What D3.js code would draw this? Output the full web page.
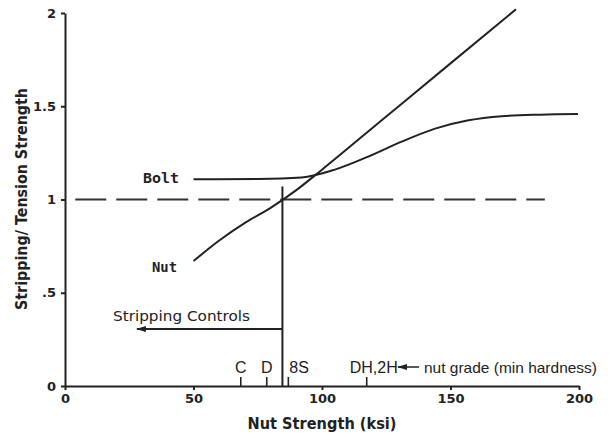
<!DOCTYPE html>
<html>
<head>
<meta charset="utf-8">
<script src="https://cdn.jsdelivr.net/npm/d3@7"></script>
<style>
  body { margin: 0; background: #fff; }
  svg { display: block; }
  .axis path, .axis line { stroke: #222; stroke-width: 2; }
  .axis text { font-family: "DejaVu Sans", sans-serif; font-weight: bold; font-size: 13px; fill: #222; }
  .curve { fill: none; stroke: #222; stroke-width: 2; }
</style>
</head>
<body>
<script>
// data
var nut_strength = [50, 60, 70, 80, 90, 100, 125, 150, 175.5];
var nut_ratio = [0.67, 0.78, 0.875, 0.955, 1.05, 1.16, 1.445, 1.73, 2.02];

var bolt_strength = [50, 75, 92, 105, 118, 131, 144, 157, 170, 185, 199.6];
var bolt_ratio = [1.108, 1.11, 1.118, 1.16, 1.23, 1.31, 1.38, 1.425, 1.447, 1.455, 1.458];

var grade_names = ['C', 'D', '8S', 'DH,2H'];
var grade_strength = [68.4, 78.5, 86.9, 117.4];

var x_ticks = [0, 50, 100, 150, 200];
var y_ticks = [0, 0.5, 1, 1.5, 2];
var y_tick_labels = ['0', '.5', '1', '1.5', '2'];

var equal_ratio = 1;       // dashed reference line
var dash_range = [4, 186.7];
var crossover = 84.6;       // nut strength where stripping = tension
var crossover_top = 1.07;

var width = 610, height = 433;

var svg = d3.select('body').append('svg')
  .attr('width', width)
  .attr('height', height);

var x_scale = d3.scaleLinear().domain([0, 200]).range([65, 579]);
var y_scale = d3.scaleLinear().domain([0, 2]).range([386, 13]);

// axes
svg.append('g')
  .attr('class', 'axis')
  .attr('transform', 'translate(' + x_scale(0) + ',0)')
  .call(d3.axisLeft(y_scale)
    .tickValues(y_ticks)
    .tickFormat(function(d, i){ return y_tick_labels[i]; })
    .tickSize(4)
    .tickSizeOuter(0)
    .tickPadding(5))
  .selectAll('text')
  .style('font-size', '13px');

svg.append('g')
  .attr('class', 'axis')
  .attr('transform', 'translate(0,' + y_scale(0) + ')')
  .call(d3.axisBottom(x_scale)
    .tickValues(x_ticks)
    .tickSize(4)
    .tickSizeOuter(0)
    .tickPadding(4));

// dashed line at ratio 1
svg.append('line')
  .attr('x1', x_scale(dash_range[0]))
  .attr('x2', x_scale(dash_range[1]))
  .attr('y1', y_scale(equal_ratio))
  .attr('y2', y_scale(equal_ratio))
  .attr('stroke', '#333')
  .attr('stroke-width', 2)
  .attr('stroke-dasharray', '31,10');

var line_gen = d3.line()
  .x(function(d){ return x_scale(d[0]); })
  .y(function(d){ return y_scale(d[1]); })
  .curve(d3.curveMonotoneX);

svg.append('path')
  .attr('class', 'curve')
  .attr('d', line_gen(d3.zip(nut_strength, nut_ratio)));

svg.append('path')
  .attr('class', 'curve')
  .attr('d', line_gen(d3.zip(bolt_strength, bolt_ratio)));

// vertical crossover line
svg.append('line')
  .attr('x1', x_scale(crossover))
  .attr('x2', x_scale(crossover))
  .attr('y1', y_scale(0))
  .attr('y2', y_scale(crossover_top))
  .attr('stroke', '#222')
  .attr('stroke-width', 2);

// arrow head marker (points along the line direction)
svg.append('defs').append('marker')
  .attr('id', 'arr')
  .attr('viewBox', '0 0 10 6')
  .attr('refX', 9)
  .attr('refY', 3)
  .attr('markerWidth', 10)
  .attr('markerHeight', 6)
  .attr('markerUnits', 'userSpaceOnUse')
  .attr('orient', 'auto')
  .append('path')
  .attr('d', 'M0,0 L10,3 L0,6 Z')
  .attr('fill', '#222');

var arrow_y = 329;
svg.append('line')
  .attr('x1', x_scale(crossover))
  .attr('x2', x_scale(28))
  .attr('y1', arrow_y)
  .attr('y2', arrow_y)
  .attr('stroke', '#222')
  .attr('stroke-width', 1.8)
  .attr('marker-end', 'url(#arr)');

svg.append('text')
  .attr('x', 113)
  .attr('y', 321)
  .attr('textLength', 137)
  .attr('lengthAdjust', 'spacingAndGlyphs')
  .style('font-family', '"DejaVu Sans", sans-serif')
  .style('font-size', '14px')
  .style('fill', '#222')
  .text('Stripping Controls');

// curve labels
svg.append('text')
  .attr('x', 143)
  .attr('y', 183)
  .attr('textLength', 36)
  .attr('lengthAdjust', 'spacingAndGlyphs')
  .style('font-family', '"DejaVu Sans Mono", monospace')
  .style('font-weight', 'bold')
  .style('font-size', '14px')
  .style('fill', '#222')
  .text('Bolt');

svg.append('text')
  .attr('x', 152)
  .attr('y', 272)
  .attr('textLength', 25)
  .attr('lengthAdjust', 'spacingAndGlyphs')
  .style('font-family', '"DejaVu Sans Mono", monospace')
  .style('font-weight', 'bold')
  .style('font-size', '14px')
  .style('fill', '#222')
  .text('Nut');

// nut grade marks
var grade_dx = [0, 0, 1, -17];
var grade_anchor = ['middle', 'middle', 'start', 'start'];
var grades = svg.append('g').selectAll('g')
  .data(grade_names)
  .enter()
  .append('g')
  .attr('transform', function(d, i){ return 'translate(' + x_scale(grade_strength[i]) + ',' + y_scale(0) + ')'; });

grades.append('line')
  .attr('y1', 0)
  .attr('y2', -9)
  .attr('stroke', '#222')
  .attr('stroke-width', 1.6);

grades.append('text')
  .attr('x', function(d, i){ return grade_dx[i]; })
  .attr('y', -13)
  .attr('text-anchor', function(d, i){ return grade_anchor[i]; })
  .style('font-family', '"Liberation Sans", Arial, sans-serif')
  .style('font-size', '16px')
  .style('fill', '#222')
  .text(function(d){ return d; });

// "nut grade" note with arrow pointing back at the grades
svg.append('line')
  .attr('x1', 419)
  .attr('x2', 398)
  .attr('y1', 367)
  .attr('y2', 367)
  .attr('stroke', '#222')
  .attr('stroke-width', 1.5)
  .attr('marker-end', 'url(#arr)');

svg.append('text')
  .attr('x', 424)
  .attr('y', 373)
  .attr('textLength', 173)
  .attr('lengthAdjust', 'spacingAndGlyphs')
  .style('font-family', '"Liberation Sans", Arial, sans-serif')
  .style('font-size', '15px')
  .style('fill', '#222')
  .text('nut grade (min hardness)');

// axis titles
svg.append('text')
  .attr('x', x_scale(100))
  .attr('y', 429)
  .attr('text-anchor', 'middle')
  .attr('textLength', 149)
  .attr('lengthAdjust', 'spacingAndGlyphs')
  .style('font-family', '"DejaVu Sans", sans-serif')
  .style('font-weight', 'bold')
  .style('font-size', '16px')
  .style('fill', '#222')
  .text('Nut Strength (ksi)');

svg.append('text')
  .attr('transform', 'translate(27,199) rotate(-90)')
  .attr('text-anchor', 'middle')
  .attr('textLength', 222)
  .attr('lengthAdjust', 'spacingAndGlyphs')
  .style('font-family', '"DejaVu Sans", sans-serif')
  .style('font-weight', 'bold')
  .style('font-size', '16px')
  .style('fill', '#222')
  .text('Stripping/ Tension Strength');
</script>
</body>
</html>
